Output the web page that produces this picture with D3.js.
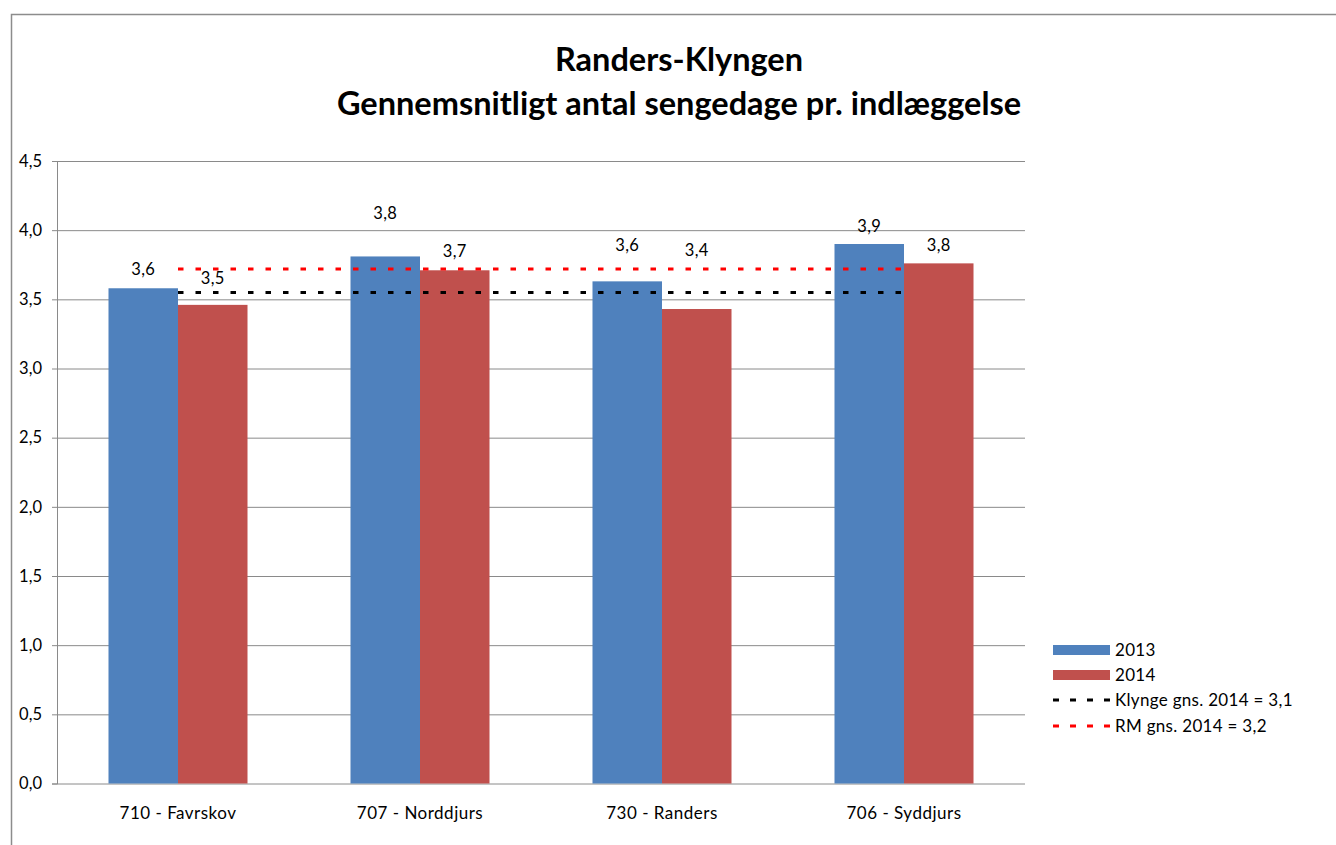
<!DOCTYPE html>
<html>
<head>
<meta charset="utf-8">
<script src="https://cdn.jsdelivr.net/npm/d3@7"></script>
<style>
  body { margin: 0; background: #fff; }
  svg { display: block; font-family: Lato, "Open Sans", sans-serif; }
  .grid line { stroke: #8a8a8a; stroke-width: 1; }
  .tick text { font-size: 16.5px; fill: #000; }
</style>
</head>
<body>
<svg id="chart"></svg>
<script>
// ------------------------------------------------------------
// Randers-Klyngen: average bed days per admission, 2013 vs 2014
// ------------------------------------------------------------

// Data
const categories = ["710 - Favrskov", "707 - Norddjurs", "730 - Randers", "706 - Syddjurs"];
const values2013 = [3.58, 3.81, 3.63, 3.90];
const values2014 = [3.46, 3.71, 3.43, 3.76];
const klyngeAvg = [3.55, 3.55, 3.55, 3.55];
const rmAvg = [3.72, 3.72, 3.72, 3.72];
const yTicks = [0, 0.5, 1, 1.5, 2, 2.5, 3, 3.5, 4, 4.5];
const legendLabels = ["2013", "2014", "Klynge gns. 2014 = 3,1", "RM gns. 2014 = 3,2"];

// Data labels were dragged by hand in the original, so keep their lifts apart
const labelLift2013 = [13, 37, 30, 12];
const labelLift2014 = [21, 13, 53, 12];

const width = 1336;
const height = 845;
const plot = { left: 57, right: 1025, top: 161, bottom: 783.5 };

const colors = { b2013: "#4f81bd", b2014: "#c0504d", klynge: "#000000", rm: "#ff0000" };

const svg = d3.select("#chart")
  .attr("width", width)
  .attr("height", height);

// Outer chart frame (only top and left edges are visible)
svg.append("path")
  .attr("d", `M11.5,${height} V14.5 H${width}`)
  .attr("fill", "none")
  .attr("stroke", "#8c8c8c")
  .attr("stroke-width", 1.5);

// Title
const title = svg.append("text")
  .attr("text-anchor", "middle")
  .attr("font-weight", "bold")
  .attr("font-size", 32.5)
  .attr("fill", "#000");
title.append("tspan").attr("x", 679).attr("y", 71).text("Randers-Klyngen");
title.append("tspan").attr("x", 679).attr("y", 115).text("Gennemsnitligt antal sengedage pr. indlæggelse");

// Scales
const x = d3.scaleBand()
  .domain(categories)
  .range([plot.left, plot.right])
  .paddingInner(0.4256)
  .paddingOuter(0.2128);

const xSeries = d3.scaleBand()
  .domain(["2013", "2014"])
  .range([0, x.bandwidth()]);

const y = d3.scaleLinear()
  .domain([0, 4.5])
  .range([plot.bottom, plot.top]);

const fmt = v => d3.format(".1f")(v).replace(".", ",");

// Horizontal gridlines + y axis
const yAxis = svg.append("g")
  .attr("class", "grid")
  .attr("transform", `translate(${plot.left},0)`)
  .call(d3.axisLeft(y)
    .tickValues(yTicks)
    .tickFormat(fmt)
    .tickSize(5)
    .tickPadding(10));
yAxis.select(".domain").attr("stroke", "#8a8a8a");
yAxis.selectAll(".tick").append("line")
  .attr("x1", 0)
  .attr("x2", plot.right - plot.left);
yAxis.selectAll(".tick text").attr("font-family", "Lato, sans-serif");

// Bars
const groups = svg.append("g")
  .selectAll("g")
  .data(categories)
  .join("g")
  .attr("transform", d => `translate(${x(d)},0)`);

const seriesData = (i) => [
  { key: "2013", value: values2013[i], color: colors.b2013, lift: labelLift2013[i] },
  { key: "2014", value: values2014[i], color: colors.b2014, lift: labelLift2014[i] }
];

groups.selectAll("rect")
  .data((d, i) => seriesData(i))
  .join("rect")
  .attr("x", d => xSeries(d.key))
  .attr("y", d => y(d.value))
  .attr("width", xSeries.bandwidth())
  .attr("height", d => y(0) - y(d.value))
  .attr("fill", d => d.color);

// Data labels
groups.selectAll("text")
  .data((d, i) => seriesData(i))
  .join("text")
  .attr("x", d => xSeries(d.key) + xSeries.bandwidth() / 2)
  .attr("y", d => y(d.value) - d.lift)
  .attr("text-anchor", "middle")
  .attr("font-size", 16.5)
  .attr("letter-spacing", 0.3)
  .attr("fill", "#000")
  .text(d => fmt(d.value));

// Average lines (dashed), drawn from first to last category centre
const line = d3.line()
  .x((d, i) => x(categories[i]) + x.bandwidth() / 2)
  .y(d => y(d));

svg.append("path")
  .datum(klyngeAvg)
  .attr("d", line)
  .attr("fill", "none")
  .attr("stroke", colors.klynge)
  .attr("stroke-width", 3)
  .attr("stroke-dasharray", "5.5,12");

svg.append("path")
  .datum(rmAvg)
  .attr("d", line)
  .attr("fill", "none")
  .attr("stroke", colors.rm)
  .attr("stroke-width", 3)
  .attr("stroke-dasharray", "5.5,12");

// Category labels
svg.append("g")
  .selectAll("text")
  .data(categories)
  .join("text")
  .attr("x", d => x(d) + x.bandwidth() / 2)
  .attr("y", 819)
  .attr("text-anchor", "middle")
  .attr("font-size", 17)
  .attr("letter-spacing", 0.5)
  .attr("fill", "#000")
  .text(d => d);

// Legend
const legend = svg.append("g").attr("transform", "translate(1053,0)");
const legendRows = [
  { label: legendLabels[0], type: "rect", color: colors.b2013, y: 650 },
  { label: legendLabels[1], type: "rect", color: colors.b2014, y: 675 },
  { label: legendLabels[2], type: "dash", color: colors.klynge, y: 700 },
  { label: legendLabels[3], type: "dash", color: colors.rm, y: 726 }
];

legendRows.forEach(r => {
  if (r.type === "rect") {
    legend.append("rect")
      .attr("x", 0).attr("y", r.y - 5)
      .attr("width", 57).attr("height", 10)
      .attr("fill", r.color);
  } else {
    legend.append("line")
      .attr("x1", 0).attr("x2", 57)
      .attr("y1", r.y).attr("y2", r.y)
      .attr("stroke", r.color)
      .attr("stroke-width", 3)
      .attr("stroke-dasharray", "6,11");
  }
  legend.append("text")
    .attr("x", 62)
    .attr("y", r.y + 6)
    .attr("font-size", 17)
    .attr("letter-spacing", 0.3)
    .attr("fill", "#000")
    .text(r.label);
});
</script>
</body>
</html>
